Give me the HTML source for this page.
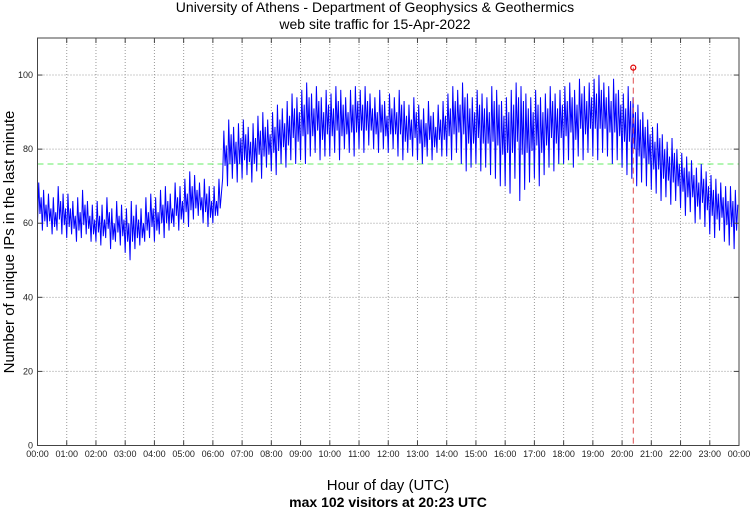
<!DOCTYPE html>
<html><head><meta charset="utf-8"><style>
body{margin:0;background:#fff;}
svg{display:block;font-family:"Liberation Sans",sans-serif;}
</style></head><body>
<svg id="chart" width="750" height="511">
<text x="375" y="12" text-anchor="middle" font-size="14">University of Athens - Department of Geophysics &amp; Geothermics</text>
<text x="375" y="29" text-anchor="middle" font-size="14">web site traffic for 15-Apr-2022</text>
<text transform="translate(14,242) rotate(-90)" text-anchor="middle" font-size="15">Number of unique IPs in the last minute</text>
<text x="388" y="490" text-anchor="middle" font-size="15">Hour of day (UTC)</text>
<text x="388" y="507" text-anchor="middle" font-size="14" font-weight="bold">max 102 visitors at 20:23 UTC</text>
<g id="grid"></g><g id="data"></g><g id="axes"></g>
</svg>
<script>
const yTicks=[0,20,40,60,80,100];
const hourLabels=["00:00","01:00","02:00","03:00","04:00","05:00","06:00","07:00","08:00","09:00","10:00","11:00","12:00","13:00","14:00","15:00","16:00","17:00","18:00","19:00","20:00","21:00","22:00","23:00","00:00"];
const avgLine=76;
const maxValue=102;
const maxMinute=20*60+23;
const binLow=[60,58,59,57,58,57, 56,57,55,56,57,55, 55,54,56,53,55,54, 52,50,53,54,55,56, 55,57,56,58,59,58, 60,59,61,62,60,59, 60,62,72,70,72,71, 72,73,71,74,72,75, 74,73,76,75,77,76, 77,76,78,79,77,78, 78,79,77,80,79,78, 80,79,81,80,79,80, 79,80,78,77,79,78, 77,76,78,77,79,78, 78,77,79,76,74,75, 76,74,75,73,72,70, 70,68,72,66,69,71, 72,70,73,75,74,76, 76,77,75,78,77,79, 78,77,79,78,76,77, 75,73,72,70,71,70, 69,68,66,67,65,66, 64,62,63,60,61,59, 57,56,58,55,54,53];
const binHigh=[71,69,68,67,70,68, 68,66,67,69,66,65, 66,65,67,64,66,65, 64,66,65,64,67,68, 67,69,70,68,71,70, 72,74,73,71,72,70, 70,72,85,88,86,87, 88,86,87,89,90,88, 90,92,91,93,95,94, 96,98,95,97,94,96, 95,97,96,94,96,97, 96,97,95,94,96,93, 95,94,96,93,92,94, 92,91,93,90,92,93, 95,97,96,98,95,94, 96,95,94,97,96,93, 94,96,98,97,95,94, 96,94,95,97,95,96, 97,98,96,99,97,98, 99,100,98,97,99,96, 95,97,94,92,90,88, 86,87,84,82,83,80, 79,78,77,75,76,74, 73,72,71,70,70,69];

const L=37.5,R=739,T=38,B=445.5,YMAX=110;
const xs=m=>L+(R-L)*m/1440;
const ys=v=>B-(B-T)*v/YMAX;
const NS="http://www.w3.org/2000/svg";
function mk(tag,attrs,parent){const e=document.createElementNS(NS,tag);for(const k in attrs)e.setAttribute(k,attrs[k]);parent.appendChild(e);return e;}
const grid=document.getElementById('grid'),data=document.getElementById('data'),axes=document.getElementById('axes');
hourLabels.forEach((lab,i)=>{
  const x=xs(i*60);
  if(i>0&&i<24){const g=mk('line',{x1:x,x2:x,y1:T,y2:B,stroke:'#999','stroke-dasharray':'1,2','stroke-width':1},grid);
  
  }
  mk('line',{x1:x,x2:x,y1:B,y2:B-5,stroke:'#444'},axes);
  mk('line',{x1:x,x2:x,y1:T,y2:T+5,stroke:'#444'},axes);
  const t=mk('text',{x:x,y:457,'text-anchor':'middle','font-size':9,fill:'#222'},axes);t.textContent=lab;
  
  
});
yTicks.forEach(v=>{
  const y=ys(v);
  if(v>0){const g=mk('line',{x1:L,x2:R,y1:y,y2:y,stroke:'#999','stroke-dasharray':'1,2'},grid);
  
  }
  mk('line',{x1:L,x2:L+5,y1:y,y2:y,stroke:'#444'},axes);
  mk('line',{x1:R,x2:R-5,y1:y,y2:y,stroke:'#444'},axes);
  const t=mk('text',{x:33,y:y+3,'text-anchor':'end','font-size':9,fill:'#222'},axes);t.textContent=v;
  
  
});
const fr=mk('rect',{x:L,y:T,width:R-L,height:B-T,fill:'none',stroke:'#444'},axes);


const avg=mk('line',{x1:L,x2:R,y1:ys(avgLine),y2:ys(avgLine),stroke:'#66ee66','stroke-dasharray':'6,4','stroke-width':1},data);


let pts=[];const bw=1440/binLow.length;
for(let i=0;i<binLow.length;i++){
  pts.push(xs(i*bw)+','+ys(binLow[i]));
  pts.push(xs(i*bw+bw*0.25)+','+ys(binHigh[i]));
  pts.push(xs(i*bw+bw*0.5)+','+ys((binLow[i]+binHigh[i])/2-3));
  pts.push(xs(i*bw+bw*0.75)+','+ys(binHigh[i]-4));
}
const pl=mk('polyline',{points:pts.join(' '),fill:'none',stroke:'#0000ff','stroke-width':1},data);


const mx=xs(maxMinute);
const ml=mk('line',{x1:mx,x2:mx,y1:ys(maxValue),y2:B,stroke:'#e05050','stroke-dasharray':'6,4'},data);


const mc=mk('circle',{cx:mx,cy:ys(maxValue),r:2.5,fill:'none',stroke:'#e00000','stroke-width':1.2},data);


</script>
</body></html>
